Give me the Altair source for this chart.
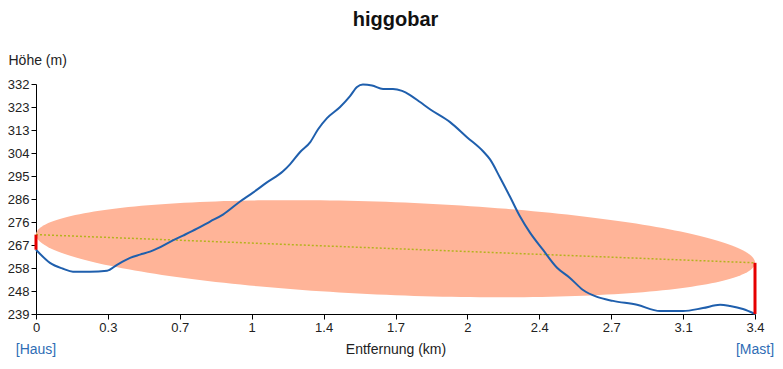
import altair as alt
import numpy as np
import pandas as pd

# ---- data ----
dist_km = [0.000, 0.066, 0.128, 0.175, 0.255, 0.336, 0.383, 0.445, 0.492, 0.539,
           0.572, 0.634, 0.695, 0.761, 0.823, 0.884, 0.965, 1.026, 1.092, 1.168,
           1.201, 1.248, 1.296, 1.334, 1.376, 1.438, 1.485, 1.518, 1.546, 1.589,
           1.641, 1.688, 1.731, 1.769, 1.816, 1.863, 1.958, 2.038, 2.114, 2.147,
           2.194, 2.241, 2.289, 2.336, 2.397, 2.464, 2.525, 2.587, 2.653, 2.729,
           2.842, 2.951, 3.060, 3.154, 3.235, 3.282, 3.343, 3.400]
height_m = [265.0, 259.7, 257.3, 256.1, 256.1, 256.5, 258.9, 261.7, 263.0, 264.2,
            265.4, 268.2, 270.7, 273.5, 276.4, 279.2, 284.5, 288.1, 292.2, 296.7,
            299.5, 304.4, 308.4, 313.7, 318.2, 322.7, 327.1, 330.8, 331.8, 331.4,
            330.0, 330.0, 329.2, 327.5, 324.7, 321.8, 316.6, 310.5, 304.8, 301.5,
            294.2, 286.5, 278.4, 271.9, 265.0, 257.7, 253.6, 248.7, 245.9, 244.3,
            242.7, 240.2, 240.2, 241.4, 242.7, 242.2, 241.0, 239.0]

total_km = 3.4
haus_ground, haus_antenna = 265.0, 271.1
mast_ground, mast_antenna = 239.0, 259.7
fresnel_half_height = 18.8

x_ticks = [0, 0.34, 0.68, 1.02, 1.36, 1.7, 2.04, 2.38, 2.72, 3.06, 3.4]
y_ticks = [239, 248.3, 257.6, 266.9, 276.2, 285.5, 294.8, 304.1, 313.4, 322.7, 332]
end_labels = ["[Haus]", "[Mast]"]
end_pos = [0, 3.4]

FONT = "Liberation Sans"

terrain = pd.DataFrame({"d": dist_km, "h": height_m})

# Fresnel ellipse around the line of sight
theta = np.linspace(0, np.pi, 121)
ed = total_km / 2 * (1 - np.cos(theta))
line_h = haus_antenna + (mast_antenna - haus_antenna) * ed / total_km
half = fresnel_half_height * np.sin(theta)
ellipse = pd.DataFrame({"d": ed, "lo": line_h - half, "hi": line_h + half})

los = pd.DataFrame({"d": [0, total_km], "h": [haus_antenna, mast_antenna]})
masts = pd.DataFrame({"d": [0, total_km], "g": [haus_ground, mast_ground],
                      "a": [haus_antenna, mast_antenna]})
ends = pd.DataFrame({"d": end_pos, "t": end_labels})

xscale = alt.Scale(domain=[0, total_km], nice=False, zero=False)
yscale = alt.Scale(domain=[239, 332], nice=False, zero=False)

xaxis = alt.Axis(values=x_ticks, tickCount=len(x_ticks),
                 labelExpr="format(datum.value, '.1~f')",
                 title="Entfernung (km)", grid=False, domainColor="black",
                 tickColor="black", tickSize=5, labelFont=FONT, labelFontSize=13,
                 labelColor="#222", titleFont=FONT, titleFontSize=14,
                 titleFontWeight="normal", titleColor="#222", titlePadding=8,
                 labelPadding=2, labelFlush=False, labelOverlap=False)
yaxis = alt.Axis(values=y_ticks, tickCount=len(y_ticks),
                 labelExpr="format(datum.value, '.0f')",
                 title="Höhe (m)", grid=False, domainColor="black",
                 tickColor="black", tickSize=5, labelFont=FONT, labelFontSize=13,
                 labelColor="#222", titleFont=FONT, titleFontSize=14,
                 titleFontWeight="normal", titleColor="#222", titleAngle=0,
                 titleAlign="left", titleBaseline="alphabetic", titleX=-28,
                 titleY=-20, labelPadding=2, labelOverlap=False)

ell = alt.Chart(ellipse).mark_area(color="#FFB498", opacity=1).encode(
    x=alt.X("d:Q", scale=xscale, axis=xaxis),
    y=alt.Y("lo:Q", scale=yscale, axis=yaxis),
    y2="hi:Q",
)

sight = alt.Chart(los).mark_line(color="#b5b21e", strokeDash=[2, 2], strokeWidth=1.5).encode(
    x="d:Q", y="h:Q"
)

ground = alt.Chart(terrain).mark_line(color="#1f5fad", strokeWidth=2,
                                      interpolate="monotone").encode(
    x="d:Q", y="h:Q"
)

bars = alt.Chart(masts).mark_rule(color="#e60000", strokeWidth=3).encode(
    x="d:Q", y="g:Q", y2="a:Q"
)

labels = alt.Chart(ends).mark_text(font=FONT, fontSize=14, color="#2f6db5",
                                   align="center", baseline="alphabetic").encode(
    x="d:Q", y=alt.value(270), text="t:N"
)

chart = alt.layer(ell, sight, ground, bars, labels).properties(
    width=719, height=230,
    title=alt.TitleParams("higgobar", font=FONT, fontSize=20, fontWeight="bold",
                          color="#111", anchor="middle", offset=23),
    autosize=alt.AutoSizeParams(type="none"),
    padding={"left": 28, "top": 76, "right": 20, "bottom": 46},
).configure_view(stroke=None)

chart.save("out.html", embed_options={"renderer": "svg", "actions": False})
